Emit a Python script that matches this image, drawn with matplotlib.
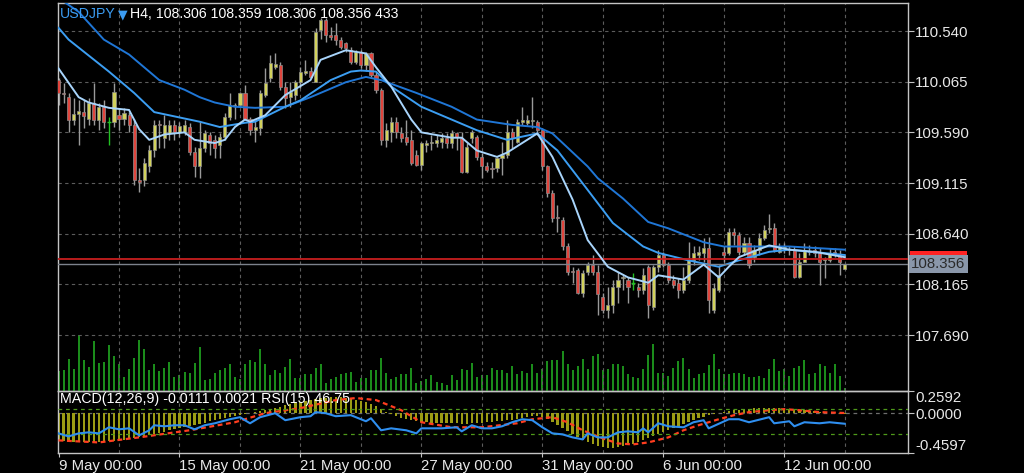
import matplotlib
matplotlib.use('Agg')
import matplotlib.pyplot as plt
from matplotlib.patches import Rectangle
import numpy as np

'''
USDJPY H4 chart in the MT4 dark look: candles, three moving averages,
tick volume, and a MACD/RSI window under it
'''

plt.rcParams['font.family'] = ['Liberation Sans', 'DejaVu Sans']

# ---- data ----
opens = [
  110.08, 109.96, 109.92, 109.71, 109.76, 109.78, 109.72, 109.87, 109.71, 109.83,
  109.69, 109.69, 109.75, 109.72, 109.75, 109.66, 109.14, 109.14, 109.27, 109.42,
  109.67, 109.54, 109.58, 109.66, 109.59, 109.59, 109.64, 109.41, 109.27, 109.44,
  109.57, 109.52, 109.47, 109.55, 109.73, 109.84, 109.85, 109.96, 109.72, 109.61,
  109.63, 109.94, 110.10, 110.20, 110.22, 110.02, 109.92, 109.94, 110.06, 110.15,
  110.17, 110.06, 110.55, 110.64, 110.50, 110.50, 110.46, 110.43, 110.36, 110.25,
  110.34, 110.22, 110.33, 110.13, 109.99, 109.52, 109.59, 109.69, 109.58, 109.55,
  109.52, 109.38, 109.28, 109.47, 109.49, 109.49, 109.50, 109.54, 109.49, 109.58,
  109.54, 109.22, 109.54, 109.55, 109.36, 109.27, 109.26, 109.26, 109.35, 109.38,
  109.59, 109.50, 109.69, 109.68, 109.70, 109.69, 109.61, 109.27, 109.02, 108.80,
  108.77, 108.52, 108.29, 108.30, 108.08, 108.28, 108.35, 108.28, 108.05, 107.92,
  107.97, 108.14, 108.22, 108.21, 108.18, 108.14, 108.11, 108.33, 107.95, 108.33,
  108.44, 108.35, 108.21, 108.18, 108.11, 108.21, 108.39, 108.44, 108.46, 108.51,
  107.92, 108.11, 108.47, 108.46, 108.66, 108.63, 108.47, 108.55, 108.42, 108.49,
  108.60, 108.68, 108.69, 108.47, 108.51, 108.49, 108.49, 108.23, 108.37, 108.47,
  108.49, 108.47, 108.39, 108.39, 108.47, 108.44, 108.306]
highs = [
  110.10, 110.05, 109.96, 109.91, 109.89, 109.89, 109.91, 110.05, 109.87, 109.89,
  109.73, 110.05, 109.82, 109.82, 109.78, 109.72, 109.26, 109.35, 109.47, 109.71,
  109.71, 109.75, 109.71, 109.71, 109.69, 109.71, 109.68, 109.45, 109.69, 109.61,
  109.59, 109.57, 109.58, 109.77, 109.96, 109.87, 109.97, 110.03, 109.73, 109.71,
  109.99, 110.19, 110.32, 110.33, 110.25, 110.06, 110.06, 110.08, 110.20, 110.27,
  110.20, 110.57, 110.66, 110.66, 110.58, 110.62, 110.48, 110.44, 110.39, 110.36,
  110.36, 110.34, 110.34, 110.16, 110.01, 109.68, 109.73, 109.73, 109.64, 109.71,
  109.61, 109.42, 109.50, 109.52, 109.57, 109.57, 109.58, 109.58, 109.61, 109.59,
  109.59, 109.49, 109.61, 109.57, 109.40, 109.31, 109.31, 109.36, 109.50, 109.71,
  109.63, 109.72, 109.83, 109.75, 109.92, 109.71, 109.63, 109.28, 109.05, 108.91,
  108.80, 108.55, 108.33, 108.32, 108.30, 108.37, 108.44, 108.35, 108.08, 108.14,
  108.21, 108.28, 108.25, 108.23, 108.27, 108.18, 108.32, 108.35, 108.35, 108.49,
  108.47, 108.37, 108.25, 108.22, 108.33, 108.56, 108.52, 108.52, 108.60, 108.61,
  108.18, 108.35, 108.52, 108.69, 108.69, 108.66, 108.61, 108.61, 108.53, 108.65,
  108.72, 108.82, 108.74, 108.55, 108.55, 108.52, 108.52, 108.46, 108.55, 108.53,
  108.52, 108.51, 108.42, 108.51, 108.51, 108.49, 108.359]
lows = [
  109.85, 109.87, 109.59, 109.66, 109.47, 109.63, 109.66, 109.66, 109.61, 109.63,
  109.47, 109.64, 109.61, 109.66, 109.59, 109.10, 109.03, 109.09, 109.22, 109.36,
  109.44, 109.44, 109.52, 109.52, 109.55, 109.57, 109.38, 109.17, 109.16, 109.41,
  109.38, 109.35, 109.35, 109.52, 109.71, 109.72, 109.83, 109.71, 109.57, 109.50,
  109.57, 109.92, 110.06, 110.18, 109.99, 109.82, 109.83, 109.89, 110.01, 110.13,
  110.10, 110.06, 110.47, 110.44, 110.46, 110.41, 110.37, 110.34, 110.23, 110.23,
  110.19, 110.17, 110.11, 109.96, 109.47, 109.45, 109.50, 109.54, 109.50, 109.47,
  109.28, 109.27, 109.24, 109.41, 109.42, 109.45, 109.44, 109.44, 109.44, 109.42,
  109.21, 109.21, 109.49, 109.33, 109.16, 109.22, 109.16, 109.22, 109.19, 109.35,
  109.44, 109.49, 109.66, 109.66, 109.63, 109.57, 109.24, 108.98, 108.75, 108.66,
  108.49, 108.25, 108.18, 108.07, 108.05, 108.25, 108.25, 107.88, 107.90, 107.85,
  107.90, 107.99, 108.11, 107.99, 108.11, 108.05, 108.07, 107.85, 107.92, 108.28,
  108.33, 108.18, 108.13, 108.04, 108.08, 108.18, 108.35, 108.39, 108.37, 107.90,
  107.90, 108.09, 108.37, 108.44, 108.53, 108.44, 108.44, 108.32, 108.37, 108.44,
  108.58, 108.65, 108.47, 108.46, 108.46, 108.44, 108.22, 108.22, 108.37, 108.44,
  108.42, 108.16, 108.22, 108.37, 108.42, 108.25, 108.306]
closes = [
  109.96, 109.95, 109.71, 109.76, 109.79, 109.74, 109.87, 109.71, 109.83, 109.69,
  109.69, 109.97, 109.72, 109.77, 109.66, 109.14, 109.12, 109.30, 109.42, 109.66,
  109.66, 109.66, 109.66, 109.59, 109.65, 109.66, 109.41, 109.27, 109.44, 109.58,
  109.49, 109.44, 109.55, 109.73, 109.85, 109.85, 109.96, 109.72, 109.61, 109.64,
  109.96, 110.05, 110.24, 110.23, 110.02, 109.91, 109.97, 110.06, 110.16, 110.17,
  110.11, 110.53, 110.64, 110.50, 110.48, 110.46, 110.39, 110.38, 110.25, 110.34,
  110.22, 110.33, 110.13, 109.99, 109.52, 109.61, 109.69, 109.59, 109.54, 109.50,
  109.30, 109.28, 109.49, 109.49, 109.50, 109.52, 109.54, 109.49, 109.58, 109.55,
  109.22, 109.45, 109.59, 109.36, 109.27, 109.24, 109.25, 109.35, 109.38, 109.59,
  109.54, 109.69, 109.71, 109.71, 109.71, 109.61, 109.27, 109.02, 108.79, 108.79,
  108.52, 108.28, 108.28, 108.08, 108.27, 108.35, 108.28, 108.07, 107.92, 107.97,
  108.14, 108.21, 108.23, 108.14, 108.18, 108.11, 108.25, 107.97, 108.33, 108.44,
  108.35, 108.21, 108.16, 108.11, 108.21, 108.39, 108.46, 108.47, 108.51, 108.02,
  108.13, 108.25, 108.44, 108.66, 108.63, 108.47, 108.55, 108.35, 108.49, 108.60,
  108.67, 108.69, 108.49, 108.52, 108.52, 108.50, 108.23, 108.37, 108.49, 108.48,
  108.46, 108.37, 108.40, 108.46, 108.44, 108.37, 108.356]
volume = [
  3200, 3310, 5070, 3470, 8960, 4910, 3890, 8000, 4480, 4690,
  7360, 5550, 4270, 2290, 3470, 5330, 8160, 6720, 3310, 4270,
  3200, 3630, 4690, 2290, 2560, 3090, 2830, 4480, 7090, 1710,
  1870, 2830, 3360, 3680, 4270, 2290, 1870, 4270, 4910, 4690,
  6720, 4270, 2510, 3310, 2830, 3890, 5070, 2030, 2030, 2670,
  2670, 3630, 4270, 1230, 1870, 2290, 2670, 2830, 3090, 1490,
  2030, 2030, 3310, 3310, 5330, 2830, 1870, 2290, 2670, 2670,
  3630, 1230, 1600, 1870, 2560, 1490, 1330, 910, 2510, 1710,
  3470, 3310, 4480, 2290, 2560, 2560, 3630, 3310, 3310, 2880,
  4000, 2720, 3200, 2930, 4370, 2930, 3570, 4800, 4910, 4910,
  6400, 4370, 3310, 4000, 5170, 3470, 5600, 5970, 3310, 3470,
  4370, 4370, 4000, 2770, 2240, 2130, 3470, 5760, 7570, 2930,
  2930, 2400, 3730, 4800, 5330, 3470, 2130, 2770, 2930, 4160,
  5970, 3470, 2770, 2670, 2930, 2930, 2670, 2240, 2240, 2400,
  2130, 3470, 5070, 3200, 3470, 2400, 3730, 4000, 4910, 2770,
  2930, 4270, 4000, 2930, 4270, 2400, 433]

# moving averages, read at some bars
ma_slow_bar = [0, 4, 9, 14, 20, 25, 28, 31, 35, 39, 45, 50, 57, 61, 64, 71, 78, 83, 90, 95,
               98, 105, 107, 112, 117, 121, 128, 132, 138, 145, 156]
ma_slow = [110.85, 110.72, 110.46, 110.32, 110.08, 109.99, 109.92, 109.87, 109.83, 109.82,
           109.83, 109.92, 110.06, 110.11, 110.08, 109.96, 109.83, 109.71, 109.66, 109.64,
           109.58, 109.27, 109.16, 108.97, 108.75, 108.69, 108.56, 108.52, 108.52, 108.52, 108.49]
ma_mid_bar = [0, 2, 10, 15, 19, 28, 32, 37, 39, 45, 48, 54, 58, 60, 63, 66, 72, 78, 83, 89,
              95, 99, 105, 110, 116, 119, 125, 131, 135, 141, 145, 156]
ma_mid = [110.57, 110.46, 110.16, 109.96, 109.78, 109.69, 109.64, 109.68, 109.69, 109.83,
          109.89, 110.08, 110.16, 110.17, 110.16, 110.02, 109.83, 109.71, 109.61, 109.52,
          109.58, 109.42, 109.05, 108.74, 108.52, 108.46, 108.39, 108.33, 108.39, 108.47,
          108.49, 108.44]
ma_fast_bar = [0, 4, 6, 10, 14, 16, 18, 21, 25, 27, 31, 33, 35, 37, 38, 41, 45, 50, 52, 57,
               61, 63, 66, 70, 72, 78, 80, 83, 87, 89, 95, 98, 102, 105, 109, 113, 117, 119,
               124, 128, 131, 133, 135, 141, 145, 150, 156]
ma_fast = [110.19, 109.92, 109.87, 109.82, 109.80, 109.62, 109.52, 109.57, 109.59, 109.52,
           109.49, 109.52, 109.64, 109.71, 109.69, 109.75, 109.94, 110.08, 110.27, 110.36,
           110.33, 110.20, 110.02, 109.71, 109.59, 109.54, 109.54, 109.42, 109.36, 109.40,
           109.58, 109.36, 108.96, 108.58, 108.33, 108.23, 108.18, 108.25, 108.21, 108.35,
           108.23, 108.33, 108.42, 108.53, 108.49, 108.47, 108.42]

# MACD(12,26,9) main, one per bar
macd_main = [
  -0.330, -0.330, -0.342, -0.342, -0.342, -0.342, -0.342, -0.342, -0.342, -0.342,
  -0.330, -0.330, -0.318, -0.318, -0.306, -0.295, -0.283, -0.271, -0.259, -0.247,
  -0.236, -0.224, -0.200, -0.189, -0.177, -0.165, -0.153, -0.141, -0.130, -0.118,
  -0.094, -0.082, -0.071, -0.059, -0.047, -0.035, -0.024, -0.012, 0.000, 0.012,
  0.024, 0.035, 0.047, 0.059, 0.071, 0.094, 0.106, 0.118, 0.130, 0.141,
  0.153, 0.165, 0.177, 0.177, 0.189, 0.189, 0.189, 0.177, 0.165, 0.153,
  0.141, 0.130, 0.106, 0.082, 0.047, 0.012, -0.012, -0.035, -0.059, -0.071,
  -0.082, -0.094, -0.106, -0.106, -0.118, -0.118, -0.118, -0.118, -0.118, -0.118,
  -0.130, -0.130, -0.118, -0.118, -0.118, -0.106, -0.106, -0.094, -0.094, -0.082,
  -0.082, -0.071, -0.059, -0.047, -0.035, -0.035, -0.047, -0.071, -0.106, -0.141,
  -0.177, -0.212, -0.247, -0.283, -0.318, -0.342, -0.365, -0.389, -0.401, -0.412,
  -0.412, -0.401, -0.389, -0.377, -0.365, -0.342, -0.318, -0.295, -0.271, -0.247,
  -0.224, -0.200, -0.177, -0.153, -0.130, -0.106, -0.082, -0.059, -0.047, -0.024,
  -0.012, 0.000, 0.012, 0.024, 0.035, 0.035, 0.047, 0.047, 0.059, 0.059,
  0.059, 0.059, 0.059, 0.059, 0.047, 0.047, 0.047, 0.035, 0.035, 0.024,
  0.024, 0.012, 0.012, 0.000, 0.000, -0.005, -0.0111]
signal_bar = [0, 8, 16, 26, 35, 41, 48, 55, 59, 63, 68, 72, 78, 84, 91, 94, 98, 101, 104, 108,
              111, 114, 117, 121, 124, 127, 131, 134, 137, 141, 144, 147, 151, 156]
signal = [-0.318, -0.342, -0.283, -0.200, -0.106, 0.000, 0.059, 0.153, 0.177, 0.153,
          0.035, -0.106, -0.165, -0.165, -0.118, -0.071, -0.047, -0.106, -0.200, -0.295,
          -0.354, -0.365, -0.342, -0.283, -0.200, -0.141, -0.071, -0.024, 0.012, 0.035,
          0.047, 0.035, 0.012, 0.0021]
rsi_bar = [0, 2, 4, 6, 8, 10, 12, 14, 16, 18, 19, 21, 23, 25, 27, 29, 31, 34, 36, 38,
           40, 43, 45, 48, 50, 51, 53, 55, 58, 61, 62, 64, 66, 69, 71, 72, 76, 79, 80, 82,
           84, 86, 88, 90, 92, 94, 96, 98, 100, 102, 104, 105, 107, 109, 111, 113, 115, 116, 117, 119,
           121, 124, 126, 128, 129, 133, 135, 137, 141, 142, 145, 146, 148, 151, 153, 156]
rsi = [31.1, 26.2, 31.1, 32.8, 31.1, 41.0, 37.7, 39.3, 27.9, 36.1,
       44.3, 42.6, 44.3, 44.3, 37.7, 44.3, 47.5, 54.1, 57.4, 47.5,
       57.4, 63.9, 52.5, 57.4, 59.0, 65.6, 63.9, 59.0, 60.7, 50.8,
       55.7, 36.1, 39.3, 36.1, 31.1, 39.3, 39.3, 41.0, 34.4, 44.3,
       39.3, 39.3, 42.6, 49.2, 54.1, 52.5, 41.0, 31.1, 29.5, 24.6,
       21.3, 31.1, 24.6, 24.6, 32.8, 34.4, 32.8, 39.3, 32.8, 47.5,
       42.6, 41.0, 49.2, 52.5, 39.3, 54.1, 54.1, 49.2, 57.4, 47.5,
       50.8, 42.6, 49.2, 47.5, 49.2, 46.75]
rsi_levels = [70, 30]

price_ticks = [110.540, 110.065, 109.590, 109.115, 108.640, 108.165, 107.690]
macd_ticks = [0.2592, 0.0, -0.4597]
date_bars = [0, 24, 48, 72, 96, 120, 144]
date_labels = ['9 May 00:00', '15 May 00:00', '21 May 00:00', '27 May 00:00',
               '31 May 00:00', '6 Jun 00:00', '12 Jun 00:00']
bid_price = 108.356
ask_price = 108.403

# ---- colours ----
BULL = '#d2d25c'
BEAR = '#e0463e'
WICK = '#9a9a9a'
DOJI = '#22c022'
GRID = '#5c5c5c'
FRAME = '#c4c4c4'
TEXT = '#e8e8e8'
LABEL_SIZE = 10.8

W, H = 1024, 473
fig = plt.figure(figsize=(W / 100, H / 100), dpi=100, facecolor='black')

left, right = 58, 907.5
main_top, main_bot, macd_bot = 3, 391, 452.5
bar_px = 5.04

ax = fig.add_axes([left / W, 1 - main_bot / H, (right - left) / W, (main_bot - main_top) / H])
axm = fig.add_axes([left / W, 1 - macd_bot / H, (right - left) / W, (macd_bot - main_bot) / H])

xlim = (-0.1, (right - left) / bar_px - 0.1)
bars = np.arange(len(closes))
o = np.array(opens)
h = np.array(highs)
l = np.array(lows)
c = np.array(closes)

# volume in its own scale under the candles
axv = ax.twinx()
axv.set_ylim(0, 62000)
axv.vlines(bars, 0, volume, color='#1f9c1f', lw=1.3)
axv.axis('off')
ax.set_zorder(2)
axv.set_zorder(1)
ax.patch.set_visible(False)

ax.set_xlim(*xlim)
ax.set_ylim(107.165, 110.803)

# grid
for t in price_ticks:
  ax.axhline(t, color=GRID, lw=0.8, ls=(0, (3, 3)), zorder=0)
for b in range(12, len(closes) + 1, 12):
  ax.axvline(b, color=GRID, lw=0.8, ls=(0, (3, 3)), zorder=0)
  axm.axvline(b, color=GRID, lw=0.8, ls=(0, (3, 3)), zorder=0)

# candles
doji = o == c
wick_cols = [DOJI if d else WICK for d in doji]
ax.vlines(bars, l, h, colors=wick_cols, lw=1, zorder=2)
body_cols = [BULL if cc > oo else BEAR for oo, cc in zip(o, c)]
ax.bar(bars[~doji], np.abs(c - o)[~doji], bottom=np.minimum(o, c)[~doji], width=0.62,
       color=np.array(body_cols)[~doji], edgecolor='#8c8c8c', linewidth=0.5, zorder=3)
ax.hlines(o[doji], bars[doji] - 0.35, bars[doji] + 0.35, colors=DOJI, lw=1, zorder=3)

# moving averages
ax.plot(ma_slow_bar, ma_slow, color='#1f76d6', lw=1.4, zorder=4)
ax.plot(ma_mid_bar, ma_mid, color='#3c9ef2', lw=1.4, zorder=4)
ax.plot(ma_fast_bar, ma_fast, color='#a8d4fb', lw=1.4, zorder=5)

# bid / ask lines
ax.axhline(ask_price, color='#c81e1e', lw=1.3, zorder=4)
ax.axhline(bid_price, color='#7c828c', lw=1.0, zorder=4)

ax.yaxis.tick_right()
ax.set_yticks(price_ticks)
ax.set_yticklabels(['%.3f' % t for t in price_ticks])
ax.tick_params(axis='y', labelcolor=TEXT, color=FRAME, labelsize=LABEL_SIZE, length=4, width=0.8, pad=1.5)
ax.tick_params(axis='x', bottom=False, labelbottom=False)
for s in ax.spines.values():
  s.set_color(FRAME)
  s.set_linewidth(1)

# ask label sits behind the bid label, only its top edge shows
ax.add_patch(Rectangle((1.0025, ask_price - 0.075), 0.068, 0.15, transform=ax.get_yaxis_transform(),
                       facecolor='#ff2222', edgecolor='none', clip_on=False, zorder=6))
ax.text(1.0045, bid_price, '%.3f' % bid_price, transform=ax.get_yaxis_transform(),
        color='#2a2a2a', fontsize=LABEL_SIZE, va='center', ha='left', clip_on=False, zorder=7,
        bbox=dict(boxstyle='square,pad=0.15', fc='#8a97aa', ec='none'))

# header
fig.text(60 / W, 1 - 14 / H, 'USDJPY', color='#3b9cf2', fontsize=10.2, va='center')
fig.text(117.5 / W, 1 - 15 / H, '\u25bc', color='#3b9cf2', fontsize=9, va='center',
         family='DejaVu Sans')
fig.text(130 / W, 1 - 14 / H,
         'H4, %.3f %.3f %.3f %.3f %d' % (opens[-1], highs[-1], lows[-1], closes[-1], volume[-1]),
         color='white', fontsize=10.2, va='center')

# MACD + RSI window
axm.set_facecolor('black')
axm.set_xlim(*xlim)
axm.set_ylim(-0.4597, 0.2592)
axm.bar(bars, macd_main, width=0.45, color='#9c9c14', zorder=2)
axm.axhline(0, color='#6e6e6e', lw=0.9, ls=(0, (3, 3)), zorder=1)
axm.plot(signal_bar, signal, color='#ff3d1f', lw=1.6, ls=(0, (2.2, 1.6)), zorder=4)

axr = axm.twinx()
axr.set_ylim(0, 100)
for lv in rsi_levels:
  axr.axhline(lv, color='#4f9a1a', lw=0.9, ls=(0, (3, 3)))
axr.plot(rsi_bar, rsi, color='#2f8ff0', lw=1.5)
axr.axis('off')

axm.yaxis.tick_right()
axm.set_yticks(macd_ticks)
axm.set_yticklabels(['%.4f' % t for t in macd_ticks])
axm.tick_params(axis='y', labelcolor=TEXT, color=FRAME, labelsize=LABEL_SIZE, length=4, width=0.8, pad=1.5)
ylabels = axm.get_yticklabels()
ylabels[0].set_va('top')
ylabels[2].set_va('bottom')

axm.set_xticks(date_bars)
axm.set_xticklabels(date_labels)
axm.tick_params(axis='x', labelcolor=TEXT, color=FRAME, labelsize=LABEL_SIZE, length=3, pad=2)
for lbl in axm.get_xticklabels():
  lbl.set_ha('left')
for s in axm.spines.values():
  s.set_color(FRAME)
  s.set_linewidth(1)

fig.text(60 / W, 1 - 399 / H,
         'MACD(12,26,9) %.4f %.4f RSI(15) %.2f' % (macd_main[-1], signal[-1], rsi[-1]),
         color='white', fontsize=10.3, va='center')

fig.savefig('out.png', dpi=100, facecolor='black')
